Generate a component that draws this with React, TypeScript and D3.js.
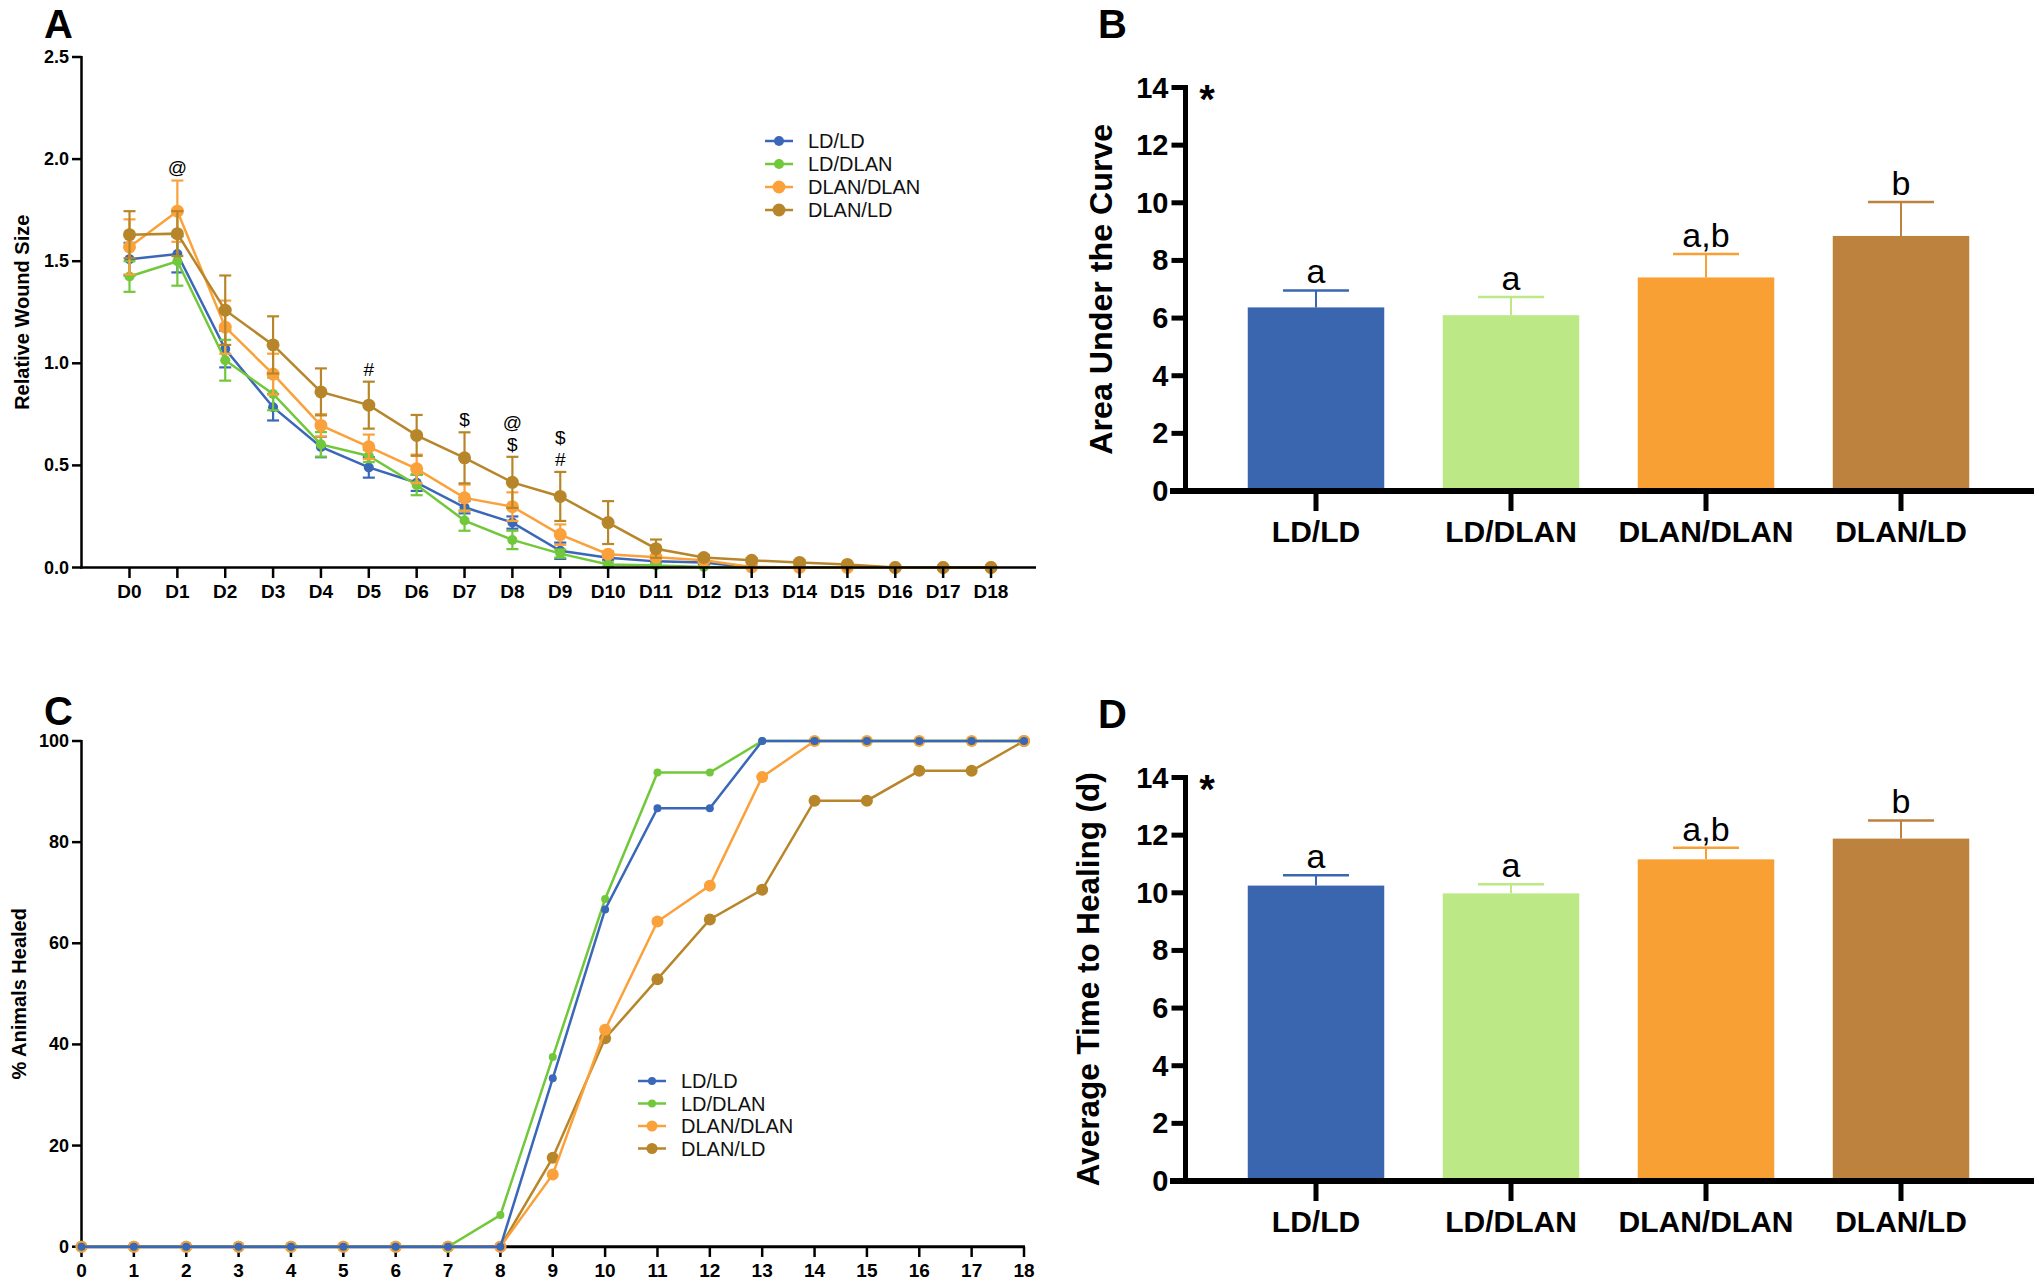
import React from "react";
import * as d3 from "d3";

const groups = ["LD/LD", "LD/DLAN", "DLAN/DLAN", "DLAN/LD"];
const lineColors = ["#3A67B8", "#71C83A", "#FBA13B", "#B8862A"];
const barColors = ["#3A66B0", "#BCE886", "#F8A034", "#BC823E"];

const dayLabels = ["D0","D1","D2","D3","D4","D5","D6","D7","D8","D9","D10","D11","D12","D13","D14","D15","D16","D17","D18"];
const woundLDLD = [1.51, 1.535, 1.07, 0.785, 0.59, 0.49, 0.415, 0.295, 0.22, 0.082, 0.048, 0.03, 0.025, 0, 0, 0, 0, 0, 0];
const woundLDLDsem = [0.08, 0.09, 0.09, 0.065, 0.05, 0.05, 0.04, 0.03, 0.03, 0.04, 0.01, 0.01, 0.01, 0, 0, 0, 0, 0, 0];
const woundLDDLAN = [1.425, 1.5, 1.015, 0.85, 0.603, 0.546, 0.404, 0.23, 0.135, 0.068, 0.015, 0.01, 0.003, 0, 0, 0, 0, 0, 0];
const woundLDDLANsem = [0.075, 0.12, 0.1, 0.08, 0.06, 0.03, 0.05, 0.05, 0.045, 0.02, 0.01, 0.01, 0, 0, 0, 0, 0, 0, 0];
const woundDLANDLAN = [1.57, 1.745, 1.177, 0.947, 0.696, 0.591, 0.483, 0.341, 0.298, 0.161, 0.065, 0.05, 0.035, 0.003, 0, 0, 0, 0, 0];
const woundDLANDLANsem = [0.135, 0.15, 0.13, 0.1, 0.055, 0.06, 0.07, 0.065, 0.07, 0.05, 0.015, 0.01, 0.01, 0, 0, 0, 0, 0, 0];
const woundDLANLD = [1.63, 1.635, 1.26, 1.09, 0.86, 0.795, 0.647, 0.537, 0.417, 0.348, 0.22, 0.092, 0.049, 0.035, 0.025, 0.015, 0, 0, 0];
const woundDLANLDsem = [0.115, 0.11, 0.17, 0.14, 0.115, 0.115, 0.1, 0.125, 0.125, 0.12, 0.105, 0.045, 0.012, 0.01, 0.01, 0.005, 0, 0, 0];
const woundTicks = [0, 0.5, 1.0, 1.5, 2.0, 2.5];
const annotationDays = [1, 5, 7, 8, 8, 9, 9];
const annotationSymbols = ["@", "#", "$", "@", "$", "$", "#"];
const annotationLevels = [1.96, 0.972, 0.727, 0.712, 0.605, 0.638, 0.531];

const healDays = [0,1,2,3,4,5,6,7,8,9,10,11,12,13,14,15,16,17,18];
const healLDLD = [0,0,0,0,0,0,0,0,0,33.3,66.7,86.7,86.7,100,100,100,100,100,100];
const healLDDLAN = [0,0,0,0,0,0,0,0,6.25,37.5,68.75,93.75,93.75,100,100,100,100,100,100];
const healDLANDLAN = [0,0,0,0,0,0,0,0,0,14.3,42.9,64.3,71.4,92.9,100,100,100,100,100];
const healDLANLD = [0,0,0,0,0,0,0,0,0,17.6,41.2,52.9,64.7,70.6,88.2,88.2,94.1,94.1,100];
const healTicks = [0, 20, 40, 60, 80, 100];

const aucMean = [6.37, 6.1, 7.41, 8.85];
const aucErr = [0.59, 0.63, 0.81, 1.18];
const aucLetters = ["a", "a", "a,b", "b"];
const timeMean = [10.25, 9.98, 11.16, 11.88];
const timeErr = [0.36, 0.32, 0.4, 0.63];
const timeLetters = ["a", "a", "a,b", "b"];
const barTicks = [0, 2, 4, 6, 8, 10, 12, 14];

const FONT = "'Liberation Sans', Arial, Helvetica, sans-serif";

function Legend({ x, y, dy, small }: { x: number; y: number; dy: number; small: boolean }) {
  return (
    <g>
      {groups.map((g, i) => {
        const yy = y + i * dy;
        const r = i < 2 ? (small ? 4 : 5) : (small ? 5.5 : 6.5);
        return (
          <g key={g}>
            <line x1={x} x2={x + 28} y1={yy} y2={yy} stroke={lineColors[i]} strokeWidth={2.5} />
            <circle cx={x + 14} cy={yy} r={r} fill={lineColors[i]} />
            <text x={x + 43} y={yy + 7} fontSize={20} fontFamily={FONT} fill="#111">{g}</text>
          </g>
        );
      })}
    </g>
  );
}

function PanelA() {
  const x = d3.scalePoint<string>().domain(dayLabels).range([129.5, 991]);
  const y = d3.scaleLinear().domain([0, 2.5]).range([567.5, 57]);
  const series = [
    { m: woundLDLD, s: woundLDLDsem },
    { m: woundLDDLAN, s: woundLDDLANsem },
    { m: woundDLANDLAN, s: woundDLANDLANsem },
    { m: woundDLANLD, s: woundDLANLDsem },
  ];
  const line = d3.line<number>().x((_, i) => x(dayLabels[i]) as number).y((d) => y(d));
  const radii = [5, 5, 6.5, 6.5];
  return (
    <g>
      <text x={44} y={38} fontSize={40} fontWeight="bold" fontFamily={FONT}>A</text>
      {series.map((s, si) => (
        <g key={si}>
          {s.m.map((v, i) => {
            if (s.s[i] <= 0.004) return null;
            const cx = x(dayLabels[i]) as number;
            return (
              <g key={i} stroke={lineColors[si]} strokeWidth={2.2}>
                <line x1={cx} x2={cx} y1={y(v - s.s[i])} y2={y(v + s.s[i])} />
                <line x1={cx - 6} x2={cx + 6} y1={y(v + s.s[i])} y2={y(v + s.s[i])} />
                <line x1={cx - 6} x2={cx + 6} y1={y(v - s.s[i])} y2={y(v - s.s[i])} />
              </g>
            );
          })}
          <path d={line(s.m) || ""} fill="none" stroke={lineColors[si]} strokeWidth={2.5} />
          {s.m.map((v, i) => (
            <circle key={i} cx={x(dayLabels[i]) as number} cy={y(v)} r={radii[si]} fill={lineColors[si]} />
          ))}
        </g>
      ))}
      <line x1={81.5} x2={81.5} y1={56} y2={568.5} stroke="#000" strokeWidth={2.5} />
      <line x1={80} x2={1036} y1={567.5} y2={567.5} stroke="#000" strokeWidth={2.5} />
      {woundTicks.map((t) => (
        <g key={t}>
          <line x1={72} x2={81.5} y1={y(t)} y2={y(t)} stroke="#000" strokeWidth={2.5} />
          <text x={69} y={y(t) + 6} textAnchor="end" fontSize={18} fontWeight="bold" fontFamily={FONT}>{t.toFixed(1)}</text>
        </g>
      ))}
      {dayLabels.map((d) => (
        <g key={d}>
          <line x1={x(d) as number} x2={x(d) as number} y1={567.5} y2={578} stroke="#000" strokeWidth={2.5} />
          <text x={x(d) as number} y={598} textAnchor="middle" fontSize={19} fontWeight="bold" fontFamily={FONT}>{d}</text>
        </g>
      ))}
      <text transform={`translate(22,${y(1.25)}) rotate(-90)`} textAnchor="middle" fontSize={20} fontWeight="bold" fontFamily={FONT} dy={7}>Relative Wound Size</text>
      {annotationDays.map((d, i) => (
        <text key={i} x={x(dayLabels[d]) as number} y={y(annotationLevels[i]) + 7} textAnchor="middle" fontSize={19} fontFamily={FONT}>{annotationSymbols[i]}</text>
      ))}
      <Legend x={765} y={141} dy={23} small={false} />
    </g>
  );
}

function PanelC() {
  const x = d3.scaleLinear().domain([0, 18]).range([81.5, 1024]);
  const y = d3.scaleLinear().domain([0, 100]).range([1246.7, 741]);
  const series = [healLDLD, healLDDLAN, healDLANDLAN, healDLANLD];
  const line = d3.line<number>().x((_, i) => x(healDays[i])).y((d) => y(d));
  const radii = [4, 4, 6, 6];
  const order = [3, 2, 1, 0];
  return (
    <g>
      <text x={44} y={725} fontSize={40} fontWeight="bold" fontFamily={FONT}>C</text>
      <line x1={81.5} x2={81.5} y1={740} y2={1248} stroke="#000" strokeWidth={2.5} />
      <line x1={80} x2={1025} y1={1246.7} y2={1246.7} stroke="#000" strokeWidth={3} />
      {healTicks.map((t) => (
        <g key={t}>
          <line x1={72} x2={81.5} y1={y(t)} y2={y(t)} stroke="#000" strokeWidth={2.5} />
          <text x={69} y={y(t) + 6} textAnchor="end" fontSize={18} fontWeight="bold" fontFamily={FONT}>{t}</text>
        </g>
      ))}
      {healDays.map((d) => (
        <g key={d}>
          <line x1={x(d)} x2={x(d)} y1={1246.7} y2={1257} stroke="#000" strokeWidth={2.5} />
          <text x={x(d)} y={1277} textAnchor="middle" fontSize={19} fontWeight="bold" fontFamily={FONT}>{d}</text>
        </g>
      ))}
      {order.map((si) => (
        <g key={si}>
          <path d={line(series[si]) || ""} fill="none" stroke={lineColors[si]} strokeWidth={2.5} />
          {series[si].map((v, i) => (
            <circle key={i} cx={x(healDays[i])} cy={y(v)} r={radii[si]} fill={lineColors[si]} />
          ))}
        </g>
      ))}
      <text transform={`translate(19,${y(50)}) rotate(-90)`} textAnchor="middle" fontSize={20} fontWeight="bold" fontFamily={FONT} dy={7}>% Animals Healed</text>
      <Legend x={638} y={1081} dy={22.5} small={true} />
    </g>
  );
}

function BarPanel({ letter, top, label, labelLen, labelSize, means, errs, letters, labelX }: { letter: string; top: number; label: string; labelLen: number; labelSize: number; means: number[]; errs: number[]; letters: string[]; labelX: number }) {
  const zeroY = 491 + top;
  const y = d3.scaleLinear().domain([0, 14]).range([zeroY, 87.5 + top]);
  const x = d3.scaleBand<string>().domain(groups).range([1218.5, 1998.5]).paddingInner(0.3).paddingOuter(0.15);
  const axisX = 1185.5;
  return (
    <g>
      <text x={1098} y={38 + top} fontSize={40} fontWeight="bold" fontFamily={FONT}>{letter}</text>
      {groups.map((g, i) => {
        const bx = x(g) as number;
        const cx = bx + x.bandwidth() / 2;
        const ty = y(means[i] + errs[i]);
        return (
          <g key={g}>
            <rect x={bx} y={y(means[i])} width={x.bandwidth()} height={zeroY - y(means[i])} fill={barColors[i]} />
            <line x1={cx} x2={cx} y1={y(means[i])} y2={ty} stroke={barColors[i]} strokeWidth={2} />
            <line x1={cx - 33} x2={cx + 33} y1={ty} y2={ty} stroke={barColors[i]} strokeWidth={2.5} />
            <text x={cx} y={ty - 7} textAnchor="middle" fontSize={34} fontFamily={FONT}>{letters[i]}</text>
            <line x1={cx} x2={cx} y1={zeroY} y2={zeroY + 20} stroke="#000" strokeWidth={5} />
            <text x={cx} y={542 + top} textAnchor="middle" fontSize={30} fontWeight="bold" fontFamily={FONT}>{g}</text>
          </g>
        );
      })}
      <line x1={axisX} x2={axisX} y1={y(14) - 2.5} y2={zeroY} stroke="#000" strokeWidth={5} />
      <line x1={1170} x2={2034} y1={zeroY} y2={zeroY} stroke="#000" strokeWidth={6} />
      {barTicks.map((t) => (
        <g key={t}>
          <line x1={axisX - 14} x2={axisX} y1={y(t)} y2={y(t)} stroke="#000" strokeWidth={5} />
          <text x={axisX - 17} y={y(t) + 10} textAnchor="end" fontSize={29} fontWeight="bold" fontFamily={FONT}>{t}</text>
        </g>
      ))}
      <text x={1207} y={113 + top} textAnchor="middle" fontSize={40} fontWeight="bold" fontFamily={FONT}>*</text>
      <text transform={`translate(${labelX},${y(7)}) rotate(-90)`} textAnchor="middle" fontSize={labelSize} fontWeight="bold" fontFamily={FONT} dy={labelSize * 0.36} textLength={labelLen} lengthAdjust="spacingAndGlyphs">{label}</text>
    </g>
  );
}

export default function App() {
  return (
    <svg width={2039} height={1285} style={{ position: "absolute", left: 0, top: 0, background: "#fff" }}>
      <rect width={2039} height={1285} fill="#fff" />
      <PanelA />
      <PanelC />
      <BarPanel letter="B" top={0} label="Area Under the Curve" labelLen={331} labelSize={32} means={aucMean} errs={aucErr} letters={aucLetters} labelX={1100} />
      <BarPanel letter="D" top={690} label="Average Time to Healing (d)" labelLen={414} labelSize={32} means={timeMean} errs={timeErr} letters={timeLetters} labelX={1087} />
    </svg>
  );
}
